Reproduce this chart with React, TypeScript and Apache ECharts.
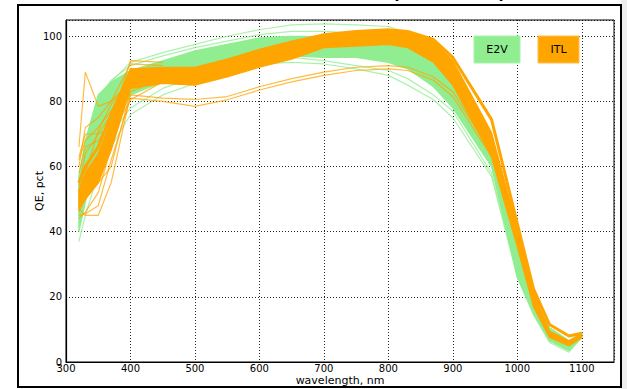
import React, { useEffect, useRef } from "react";
import * as echarts from "echarts";

// wavelength sample points, nm
const WL = [320, 330, 350, 370, 400, 450, 500, 550, 600, 650, 700, 750, 800, 830, 870, 900, 960, 1000, 1025, 1050, 1080, 1100];

// E2V bundle envelope (QE, pct)
const E2V_LOW = [40, 49, 63, 71, 82, 86, 89, 91, 93, 94, 93.5, 93.5, 92, 90, 84.5, 78, 60, 26, 15, 6.5, 3.5, 7.5];
const E2V_HIGH = [57, 68, 82, 86, 89.5, 92.5, 95.5, 97.5, 99.5, 100, 100, 99.5, 99, 97.5, 93, 89, 68.5, 35, 20.5, 10.5, 6.5, 9];
// E2V individual curves
const E2V_TOP = [50, 62, 80, 86, 92, 95, 97.5, 100, 102, 103.5, 103.8, 103.5, 103, 101, 96, 90, 68, 35, 20, 10.5, 6.5, 9];
const E2V_HI2 = [52, 64, 81, 86.5, 91, 94, 96.5, 98.5, 100.5, 101.5, 101.5, 101, 100, 98.5, 94, 89.5, 68.5, 34, 20, 10, 6, 8.8];
const E2V_LOW1 = [37, 45, 58, 66, 76, 82, 85.5, 89, 91.5, 92, 91.5, 90, 88, 85, 80.5, 75, 57, 26, 14.5, 6, 3, 7.5];
const E2V_LOW2 = [42, 50, 62, 70, 78, 84, 87.5, 90.5, 93, 93.5, 92.5, 91, 89.5, 87, 82, 77, 58, 27, 15, 6.5, 3.5, 7.5];

// ITL bundle envelope
const ITL_LOW = [47, 50, 55, 65, 84, 85.5, 85, 87.5, 90.5, 93, 96.5, 97, 97.5, 96.5, 92, 85, 63, 35.5, 17, 7.5, 5, 7.5];
const ITL_HIGH = [53, 58, 64, 74, 90, 90.5, 90.5, 93, 96, 98.5, 100.5, 101.5, 102, 101.5, 98.5, 92.5, 70.5, 41, 21.5, 9.5, 6.5, 8.5];
// ITL individual curves
const ITL_GROUP = [55, 60, 66, 76, 89, 90, 90, 92.5, 95.5, 98, 100.5, 101.5, 102, 101.5, 99, 93.5, 74.5, 42.5, 22.5, 11.5, 8, 8.8];
const ITL_LOW1 = [47, 45, 45, 55, 82, 81, 80.6, 81.5, 84.5, 87, 89, 90.5, 91, 90.5, 87.5, 83, 64, 36, 18, 8, 5.5, 7.8];
const ITL_LOW2 = [45, 45.5, 48, 62, 81, 80, 78.5, 80.5, 83.5, 86, 88, 89.5, 90, 89.5, 86.5, 81.5, 63, 35.5, 17.5, 7.8, 5.2, 7.6];
// short-wavelength parts of ITL curves (320-450 nm)
const ITL_SPIKE = [66, 89, 78.5, 80, 86, 88];
const ITL_A = [60, 72, 75, 80, 91.5, 91];
const ITL_B = [62, 68, 72, 77, 88, 89];
const ITL_C = [50, 56, 62, 74, 92.5, 92];
const ITL_D = [48, 52, 58, 70, 80.5, 86];
const ITL_E = [54, 64, 70, 72, 85, 88];
const ITL_F = [52, 58, 71, 79, 87, 89.5];
const ITL_G = [58, 66, 68, 74, 84.5, 87];
const ITL_H = [46, 50, 55, 60, 83, 87];
const ITL_I = [44, 46, 52, 66, 86, 88];
const ITL_J = [63, 70, 70, 76, 90, 90];

const X_TICKS = [300, 400, 500, 600, 700, 800, 900, 1000, 1100];
const Y_TICKS = [0, 20, 40, 60, 80, 100];

const GREEN = "#90EE90";
const ORANGE = "#FFA500";
const FONT = "DejaVu Sans";

const pairs = (vals: number[]) => vals.map((v, i) => [WL[i], v]);

export default function App() {
  const ref = useRef<HTMLDivElement>(null);
  useEffect(() => {
    const chart = echarts.init(ref.current!, null, { renderer: "svg" });

    const band = (lo: number[], hi: number[], color: string, z: number) => ({
      type: "custom",
      z,
      silent: true,
      clip: true,
      data: [[WL[0], lo[0]]],
      renderItem: (_p: any, api: any) => {
        const pts: number[][] = [];
        for (let i = 0; i < WL.length; i++) pts.push(api.coord([WL[i], hi[i]]));
        for (let i = WL.length - 1; i >= 0; i--) pts.push(api.coord([WL[i], lo[i]]));
        return {
          type: "polygon",
          shape: { points: pts },
          style: { fill: color, stroke: color, lineWidth: 1.2 },
        };
      },
    });

    const line = (vals: number[], color: string, z: number, width = 1.2, opacity = 0.75) => ({
      type: "line",
      z,
      silent: true,
      showSymbol: false,
      symbol: "none",
      data: pairs(vals),
      lineStyle: { color, width, opacity },
    });

    chart.setOption({
      animation: false,
      grid: {
        left: 66,
        right: 13,
        top: 20,
        bottom: 27,
        outerBoundsMode: "none",
        containLabel: false,
        show: true,
        borderColor: "#000",
        borderWidth: 1,
      },
      xAxis: {
        type: "value",
        min: 300,
        max: 1150,
        interval: 100,
        name: "wavelength, nm",
        nameLocation: "middle",
        nameGap: 13,
        nameMoveOverlap: false,
        nameTextStyle: { fontFamily: FONT, fontSize: 11, color: "#000" },
        axisLine: { show: true, lineStyle: { color: "#000", width: 1.2 } },
        axisTick: { show: false },
        axisLabel: {
          fontFamily: FONT,
          fontSize: 10,
          color: "#000",
          margin: 1,
          formatter: (v: number) => (X_TICKS.includes(v) ? String(v) : ""),
        },
        splitLine: { show: true, lineStyle: { color: "#000", width: 1, type: [1, 2], opacity: 0.85 } },
      },
      yAxis: {
        type: "value",
        min: 0,
        max: 105,
        interval: 20,
        name: "QE, pct",
        nameLocation: "middle",
        nameGap: 21,
        nameMoveOverlap: false,
        nameTextStyle: { fontFamily: FONT, fontSize: 11, color: "#000" },
        axisLine: { show: true, lineStyle: { color: "#000", width: 1.2 } },
        axisTick: { show: false },
        axisLabel: {
          fontFamily: FONT,
          fontSize: 10,
          color: "#000",
          margin: 4,
          formatter: (v: number) => (Y_TICKS.includes(v) ? String(v) : ""),
        },
        splitLine: { show: true, lineStyle: { color: "#000", width: 1, type: [1, 2], opacity: 0.85 } },
      },
      graphic: [
        { type: "rect", shape: { x: 621, y: 0, width: 6, height: 389 }, style: { fill: "#eeeeee" }, silent: true },
        {
          type: "rect",
          shape: { x: 18, y: 5, width: 603, height: 382 },
          style: { fill: "none", stroke: "#000", lineWidth: 2 },
          silent: true,
        },
        {
          type: "text",
          x: 506,
          y: -7,
          style: {
            text: "Sensor curves (E2V vs ITL)",
            fontFamily: FONT,
            fontWeight: "bold",
            fontSize: 17,
            fill: "#000",
            textAlign: "right",
            textVerticalAlign: "middle",
          },
          silent: true,
        },
        { type: "rect", shape: { x: 474, y: 36, width: 46, height: 27 }, style: { fill: GREEN, stroke: "#a8f2a8", lineWidth: 1 }, z: 100, silent: true },
        {
          type: "text",
          x: 497,
          y: 49.5,
          z: 101,
          style: { text: "E2V", fontFamily: FONT, fontSize: 11, fill: "#000", textAlign: "center", textVerticalAlign: "middle" },
          silent: true,
        },
        { type: "rect", shape: { x: 538, y: 36, width: 41, height: 27 }, style: { fill: ORANGE, stroke: "#ffbf4d", lineWidth: 1 }, z: 100, silent: true },
        {
          type: "text",
          x: 558.5,
          y: 49.5,
          z: 101,
          style: { text: "ITL", fontFamily: FONT, fontSize: 11, fill: "#000", textAlign: "center", textVerticalAlign: "middle" },
          silent: true,
        },
      ],
      series: [
        band(E2V_LOW, E2V_HIGH, GREEN, 2),
        line(E2V_TOP, GREEN, 3),
        line(E2V_HI2, GREEN, 3),
        line(E2V_LOW1, GREEN, 3),
        line(E2V_LOW2, GREEN, 3),
        band(ITL_LOW, ITL_HIGH, ORANGE, 4),
        line(ITL_LOW1, ORANGE, 5),
        line(ITL_LOW2, ORANGE, 5),
        line(ITL_GROUP, ORANGE, 5, 3, 1),
        line(ITL_SPIKE, ORANGE, 5),
        line(ITL_A, ORANGE, 5),
        line(ITL_B, ORANGE, 5),
        line(ITL_C, ORANGE, 5),
        line(ITL_D, ORANGE, 5),
        line(ITL_E, ORANGE, 5),
        line(ITL_F, ORANGE, 5),
        line(ITL_G, ORANGE, 5),
        line(ITL_H, ORANGE, 5),
        line(ITL_I, ORANGE, 5),
        line(ITL_J, ORANGE, 5),
      ],
    });
    return () => chart.dispose();
  }, []);
  return (
    <div
      ref={ref}
      style={{ position: "fixed", left: 0, top: 0, width: 627, height: 389, background: "#fff" }}
    />
  );
}
